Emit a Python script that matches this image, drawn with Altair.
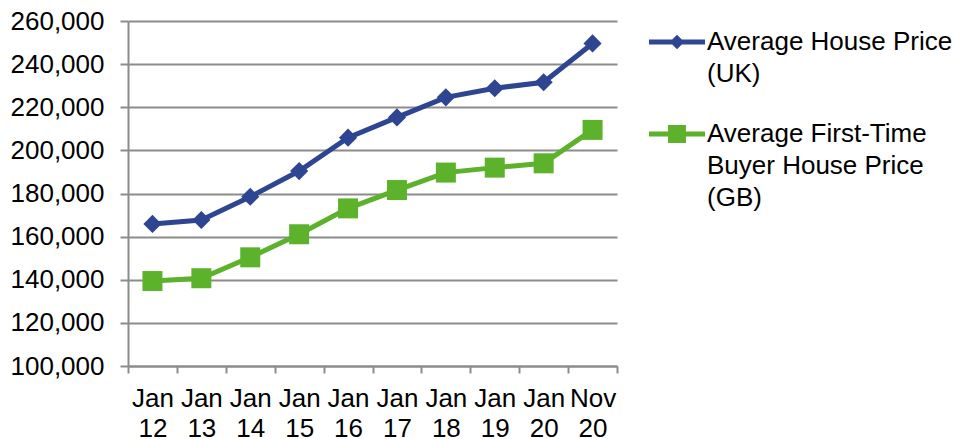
import altair as alt
import pandas as pd

periods = ["Jan 12", "Jan 13", "Jan 14", "Jan 15", "Jan 16",
           "Jan 17", "Jan 18", "Jan 19", "Jan 20", "Nov 20"]
uk_price = [165900, 167700, 178500, 190400, 205900,
            215300, 224600, 228800, 231600, 249600]
ftb_price = [139400, 140700, 150400, 161100, 173100,
             181600, 189700, 192000, 194000, 209500]
series_names = ["Average House Price (UK)",
                "Average First-Time Buyer House Price (GB)"]
legend_lines = [["Average House Price", "(UK)"],
                ["Average First-Time", "Buyer House Price", "(GB)"]]
colors = ["#2E4591", "#5DB22B"]
y_ticks = [100000, 120000, 140000, 160000, 180000, 200000, 220000, 240000, 260000]

rows = []
for p, a, b in zip(periods, uk_price, ftb_price):
    rows.append({"period": p, "series": series_names[0], "price": a})
    rows.append({"period": p, "series": series_names[1], "price": b})
df = pd.DataFrame(rows)

FONT = "Liberation Sans"
GRID = "#8c8c8c"

# legend symbols: a line with the marker on it (custom SVG paths in unit box)
diamond_sym = "M-1,-0.09L1,-0.09L1,0.09L-1,0.09Z M0,-0.26L0.26,0L0,0.26L-0.26,0Z"
square_sym = "M-1,-0.09L1,-0.09L1,0.09L-1,0.09Z M-0.32,-0.32L0.32,-0.32L0.32,0.32L-0.32,0.32Z"

label_expr = (
    "datum.label == '" + series_names[0] + "' ? ["
    + ", ".join("'" + s + "'" for s in legend_lines[0]) + "] : ["
    + ", ".join("'" + s + "'" for s in legend_lines[1]) + "]"
)

x = alt.X(
    "period:N",
    sort=periods,
    scale=alt.Scale(type="band", paddingInner=0, paddingOuter=0),
    axis=alt.Axis(
        title=None, labelAngle=0, labelExpr="split(datum.label, ' ')",
        tickBand="extent", labelPadding=12, tickSize=7, labelLineHeight=30,
        labelBaseline="top", grid=False,
    ),
)
y = alt.Y(
    "price:Q",
    scale=alt.Scale(domain=[100000, 260000], nice=False, zero=False),
    axis=alt.Axis(values=y_ticks, format=",d", title=None, tickSize=8,
                  labelPadding=16, grid=True),
)

base = alt.Chart(df).encode(x=x, y=y)

layers = []
for name, col, shp, sz in zip(series_names, colors, ["diamond", "square"], [330, 400]):
    sub = base.transform_filter(alt.datum.series == name)
    layers.append(sub.mark_line(strokeWidth=5, color=col))
    layers.append(sub.mark_point(shape=shp, filled=True, size=sz, opacity=1, color=col))

leg = dict(
    title=None, orient="none", legendX=521, legendY=-7, padding=0,
    labelFont=FONT, labelFontSize=26, labelColor="#000000", labelLimit=400,
    labelExpr=label_expr, labelBaseline="middle", labelOffset=2,
    symbolSize=3136, symbolStrokeWidth=0, symbolOpacity=1, rowPadding=19,
)
legend_layer = base.mark_point(opacity=0, filled=True).encode(
    color=alt.Color("series:N", scale=alt.Scale(domain=series_names, range=colors),
                    legend=alt.Legend(**leg)),
    shape=alt.Shape("series:N",
                    scale=alt.Scale(domain=series_names, range=[diamond_sym, square_sym]),
                    legend=alt.Legend(**leg)),
)
layers.append(legend_layer)

chart = (
    alt.layer(*layers)
    .properties(width=489, height=345,
                padding={"left": 2, "top": 0, "right": 0, "bottom": 0})
    .configure(style={"guide-label": {"lineHeight": 32}})
    .configure_view(stroke=None)
    .configure_axis(
        labelFont=FONT, labelFontSize=26, labelColor="#000000",
        domainColor=GRID, domainWidth=2, tickColor=GRID, tickWidth=2,
        gridColor=GRID, gridWidth=2,
    )
)

chart.save("out.html", embed_options={"renderer": "svg", "actions": False})
